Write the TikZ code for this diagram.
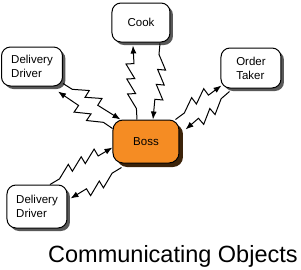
\documentclass[tikz,border=0pt]{standalone}
\usepackage{fontspec}
\setmainfont{Liberation Sans}
\usetikzlibrary{decorations.pathmorphing,arrows.meta,shadows}
\definecolor{bossorange}{RGB}{245,140,35}
\definecolor{bossshadow}{RGB}{60,35,10}
\begin{document}
\begin{tikzpicture}[x=1pt,y=-1pt,
  obj/.style={draw=black,line width=1pt,rounded corners=9pt,fill=white,inner sep=0pt,
    align=left,font=\fontsize{11.5}{14}\selectfont,
    drop shadow={shadow xshift=3pt,shadow yshift=-3pt,fill=black!65,opacity=1}},
  bossbox/.style={draw=black,line width=1pt,rounded corners=10pt,
    fill=bossorange,inner sep=0pt,font=\fontsize{11.5}{14}\selectfont,
    drop shadow={shadow xshift=4pt,shadow yshift=-4pt,fill=bossshadow,opacity=1}},
  bolt/.style={decorate,decoration={saw,segment length=15pt,amplitude=8pt,pre length=11pt,post length=13pt},
    -{Latex[length=8pt,width=6pt]},line width=1pt,draw=black}]
\useasboundingbox (0,0) rectangle (301,269);
\node[obj,minimum width=58pt,minimum height=39pt] (cook) at (141,22.5) {Cook};
\node[obj,minimum width=61pt,minimum height=39pt] (dd1) at (32,66.5) {Delivery\\Driver};
\node[obj,minimum width=60pt,minimum height=40pt] (ot) at (251,68) {Order\\Taker};
\node[bossbox,minimum width=66pt,minimum height=43pt] (boss) at (146,141.5) {Boss};
\node[obj,minimum width=60pt,minimum height=43pt] (dd2) at (37,206.5) {Delivery\\Driver};
\node[font=\fontsize{23.5}{28}\selectfont,anchor=base west,inner sep=0pt] (title) at (48,262) {Communicating Objects};
\draw[bolt] ([yshift=3pt]dd1.south east) -- ([xshift=8pt]boss.north west);
\draw[bolt] ([yshift=13pt]boss.west) -- ([xshift=-5pt,yshift=-5pt]dd1.south east);
\draw[bolt] ([xshift=-9pt]boss.north) -- ([xshift=-8pt,yshift=-3pt]cook.south);
\draw[bolt] ([xshift=19pt,yshift=-1pt]cook.south) -- ([xshift=7pt]boss.north);
\draw[bolt] ([xshift=-4pt]boss.north east) -- ([xshift=1pt,yshift=3pt]ot.south west);
\draw[bolt] ([xshift=9pt,yshift=-3pt]ot.south west) -- ([xshift=6pt,yshift=-10pt]boss.north east);
\draw[bolt] ([xshift=13pt]dd2.north) -- ([yshift=-6pt]boss.west);
\draw[bolt] ([xshift=9pt,yshift=-4pt]boss.south west) -- ([xshift=3pt,yshift=8pt]dd2.east);
\end{tikzpicture}
\end{document}
